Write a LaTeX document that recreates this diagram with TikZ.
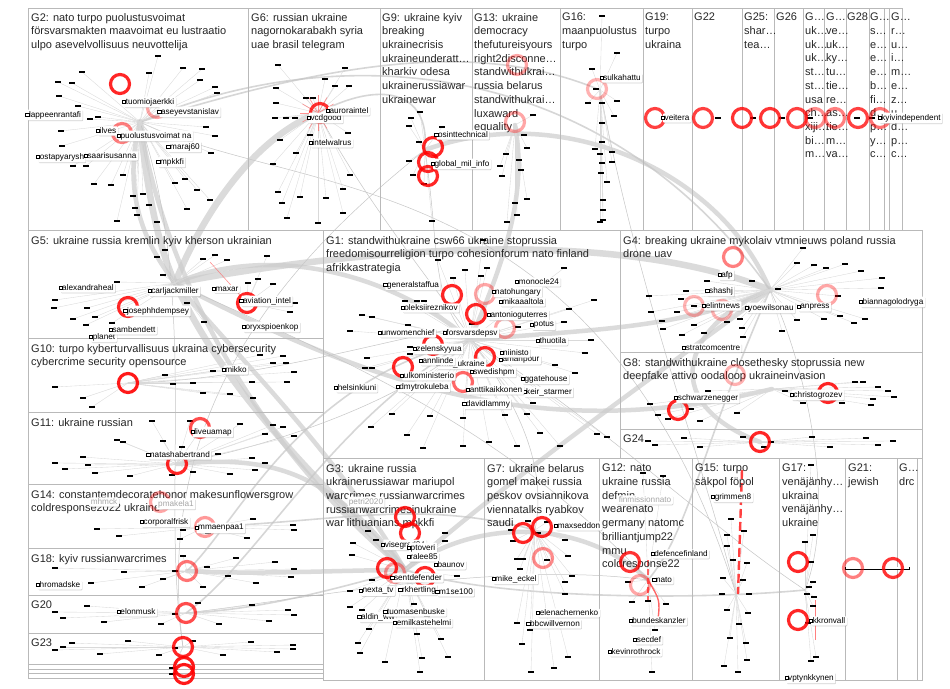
\documentclass[tikz,border=0pt]{standalone}
\usepackage{fontspec}
\setmainfont{Liberation Sans}
\usetikzlibrary{shadows}
\tikzset{
 box/.style={draw=gray!55, line width=.7pt},
 ttl/.style={anchor=north west, align=left, inner sep=0pt, font=\fontsize{11}{13.7}\selectfont, text=black!85},
 lab/.style={fill=white, rounded corners=1pt, inner sep=1.6pt, font=\fontsize{8.2}{9}\selectfont, drop shadow={opacity=.35, shadow xshift=.5pt, shadow yshift=-.8pt}},
 flab/.style={lab, text=gray!70},
 sq/.style={draw=black, fill=white, minimum size=3.2pt, inner sep=0pt, line width=.6pt},
 dsh/.style={fill=black, minimum width=6pt, minimum height=2.4pt, inner sep=0pt},
 ed/.style={draw=gray!30, line width=.35pt},
 ring/.style={circle, draw=red, line width=3.2pt, minimum size=19pt, inner sep=0pt},
 bund/.style={draw=gray!40, line width=4.5pt, opacity=.7, line cap=round},
 fat/.style={bund, line width=6.5pt},
 mid/.style={draw=gray!45, line width=1.6pt, opacity=.7},
 thn/.style={draw=gray!45, line width=.5pt},
 redge/.style={draw=red!60, line width=.6pt, opacity=.7}
}
\newcommand\gedges[3]{\foreach \x/\y [count=\i] in #3 {\coordinate (#1-\i) at (\x,\y); \draw[ed] (#2) -- (#1-\i);}}
\newcommand\gnodes[2]{\foreach \x/\y [count=\i] in #2 {\node[dsh] (#1-n\i) at (#1-\i) {};}}
\newcommand\lb[4]{\node[lab] (#1) at (#2,#3) {#4};\node[sq] (#1-s) at (#1.west) {};}
\newcommand\flb[4]{\node[flab] (#1) at (#2,#3) {#4};}
\def\Lgtwo{82/72,58/82,72/83,59/96,78/106,90/119,98/117,61/131,62/146,73/166,86/166,158/56,149/73,183/68,202/69,200/80,215/87,217/93,206/127,215/136,211/153,123/175,94/184,111/185,175/183,185/179,197/190,210/200,133/196,143/194,135/208,149/205,137/215,117/221,187/209,157/222}
\def\Lgsix{278/65,276/88,276/103,275/118,286/118,295/118,306/98,313/98,310/135,280/140,296/153,273/164,278/192,282/203,300/197,287/218,318/223,345/68,325/79,335/86,349/86,348/133,350/175,343/189,326/198,343/213}
\def\Lgnine{420/112,411/118,409/126,419/142,409/161,413/175,424/184,432/221,442/127}
\def\Lgthirteen{506/154,502/176,500/166,519/160,521/170,527/148,524/135,515/203,527/199,507/222,517/215,533/115}
\def\Lgsixteen{602/16,617/53,592/69,596/89,588/103,602/103,617/101,614/116,602/123,602/142,595/149,600/154,612/152,602/163,612/162,601/173,607/182,603/200,603/210,603/220,600/222}
\def\Lgfive{157/257,165/250,163/275,117/282,55/300,87/308,95/317,73/319,86/325,54/308,112/323,203/259,215/255,227/260,187/303,204/322}
\def\Lgfiveb{267/256,258/279,273/284,248/283,295/303,290/312}
\def\Lgten{55/387,83/398,92/407,165/375,173/384,213/371,193/383,203/393,230/394,260/355,252/382,273/363,286/363,294/372,287/382,283/356,253/398}
\def\Lgeleven{152/421,190/421,163/441,117/440,123/442,182/447,199/432,240/424,273/425,283/427,265/434,294/436,218/454,55/463,83/457,88/465,65/469,95/473,130/476,193/472,230/474,252/458,265/463,255/470,172/475}
\def\Lgfourteen{97/529,119/536,180/539,183/530,208/533,247/538,253/519,293/525,294/530}
\def\Lgeighteen{55/568,124/572,163/579,142/587,91/583,175/571,207/567,228/576,236/558,275/562,294/569,291/577,256/583,203/587,183/556}
\def\Lgtwenty{87/606,55/612,63/618,104/622,161/624,175/614,198/603,219/624,252/605,269/621,288/610,294/615}
\def\Lgtwentythree{55/650,63/647,72/643,100/654,128/641,159/655,175/648,193/641,223/655,251/642,277/652,293/645,293/649,172/668,172/674}
\def\Lgone{483/240,438/260,465/270,487/268,564/268,453/278,481/276,405/301,417/301,424/301,362/315,372/317,408/325,350/331,472/324,518/327,564/322,569/309,594/300,591/340,585/353,410/347,410/354,367/358,365/368,372/368,555/365,575/373,533/403,505/415,527/414,392/414,430/416,463/418,371/427,407/435,423/448,463/446,489/442,540/433,597/434,607/437,560/446,517/446}
\def\Lgfour{803/248,797/263,814/265,826/268,845/264,861/271,882/278,881/288,838/296,752/281,778/289,707/281,686/291,649/296,681/299,694/306,651/312,677/312,662/321,694/325,663/329,682/335,704/333,727/322,740/319,742/328,743/337,782/331,797/320,824/319,840/316,854/323,865/319}
\def\Lgeight{855/382,863/382,878/387,888/391,894/397,873/399,871/405,785/391,803/403,842/403,708/391,650/404,658/415,668/419,691/409,700/421,737/413}
\def\Lgtwentyfour{684/438,655/445,648/441,700/447,743/437,764/447,771/442,812/437,830/447,866/438,878/445,893/441}
\def\Lgthree{368/531,376/540,353/543,352/555,445/533,445/541,372/580,350/591,350/607,362/610,369/629,358/643,360/653,385/662,420/672,422/658,448/657,441/639,417/634,427/616,414/604,457/576}
\def\Lgseven{511/530,513/541,528/521,547/522,565/540,568/556,565/582,572/576,565/594,520/569,523/559,517/559,538/533,547/560,517/623,530/630,522/644,568/657,554/668,531/672}
\def\Lgtwelve{628/582,632/602,648/601,666/604,655/630,652/672,643/473,663/476}
\def\Lgfifteen{731/519,727/535,727/546,733/560,747/563,723/578,743/580,722/594,749/594,727/610,748/613,739/624,730/638,746/643,747/660,724/666,738/672,744/531}
\def\Lgseventeen{813/535,805/542,811/562,813/582,809/587,807/594,814/597,813/606,808/623,816/657,811/661,811/465}
\begin{document}
\begin{tikzpicture}[x=1pt,y=-1pt]
\useasboundingbox (0,0) rectangle (950,688);
\fill[white] (0,0) rectangle (950,688);
% ---------------- hubs
\coordinate (h2) at (140,122); \coordinate (h6) at (318,113); \coordinate (h9) at (425,150);
\coordinate (h13) at (515,125); \coordinate (h16) at (600,90); \coordinate (h5) at (175,283);
\coordinate (h5b) at (247,303); \coordinate (h10) at (128,383); \coordinate (h11) at (177,464);
\coordinate (h14) at (205,527); \coordinate (h18) at (187,571); \coordinate (h20) at (186,613);
\coordinate (h23) at (183,647); \coordinate (h1) at (470,340); \coordinate (h4) at (770,290);
\coordinate (h8) at (772,389); \coordinate (h24) at (760,442); \coordinate (h3) at (405,570);
\coordinate (h7) at (535,530); \coordinate (h12) at (648,580); \coordinate (h15) at (736,594);
\coordinate (h17) at (805,590);
% ---------------- thick bundles
\draw[fat] (h2) .. controls (148,200) and (160,250) .. (h5);
\draw[bund] (h2) .. controls (120,200) and (150,250) .. (h5);
\draw[bund] (h2) .. controls (165,280) and (260,450) .. (h3);
\draw[fat] (h6) .. controls (250,140) and (200,220) .. (h5);
\draw[bund] (h5) .. controls (280,240) and (400,280) .. (h1);
\draw[fat] (h5) .. controls (350,250) and (610,225) .. (h4);
\draw[bund] (h9) .. controls (560,100) and (720,170) .. (h4);
\draw[bund] (h1) .. controls (580,330) and (680,330) .. (h4);
\draw[bund] (h4) .. controls (650,380) and (520,470) .. (h3);
\draw[fat] (h5) .. controls (230,400) and (320,480) .. (h3);
\draw[bund] (h5) .. controls (260,380) and (340,460) .. (h3);
\draw[bund] (h11) .. controls (270,455) and (330,470) .. (h3);
\draw[bund] (h18) .. controls (260,575) and (340,570) .. (h3);
\draw[mid] (h20) .. controls (260,610) and (330,590) .. (h3);
\draw[bund] (h3) .. controls (470,520) and (580,515) .. (h12);
\draw[bund] (h13) .. controls (525,180) and (515,240) .. (h1);
\draw[bund] (h5) .. controls (400,400) and (560,440) .. (h8);
\draw[bund] (h4) .. controls (690,320) and (650,400) .. (h24);
\draw[mid] (h2) .. controls (330,40) and (600,50) .. (h4);
\draw[mid] (h2) .. controls (340,60) and (480,40) .. (h16);
\draw[mid] (h6) .. controls (380,80) and (430,90) .. (h9);
\draw[mid] (h1) .. controls (330,420) and (260,560) .. (h20);
\draw[mid] (h1) .. controls (300,380) and (240,520) .. (h18);
\draw[mid] (h4) .. controls (700,450) and (690,530) .. (h12);
\draw[mid] (h3) .. controls (500,600) and (700,600) .. (h17);
\draw[mid] (h14) .. controls (350,520) and (420,500) .. (h7);
\draw[thn] (h2) .. controls (300,200) and (600,160) .. (h15);
\draw[thn] (h9) .. controls (300,250) and (150,400) .. (h23);
\draw[thn] (h6) .. controls (420,300) and (560,400) .. (h7);
\draw[thn] (h16) .. controls (640,300) and (700,450) .. (h15);
\draw[thn] (h1) .. controls (600,420) and (700,520) .. (h17);
\draw[thn] (h5) .. controls (320,350) and (500,420) .. (h12);
\draw[thn] (h10) .. controls (300,380) and (500,300) .. (h1);
\draw[thn] (h11) .. controls (300,440) and (420,390) .. (h1);
\draw[thn] (h4) .. controls (800,350) and (840,500) .. (h17);
\draw[thn] (h20) .. controls (300,600) and (500,560) .. (h12);
\draw[thn] (h2) .. controls (200,300) and (160,500) .. (h23);
\draw[thn] (h9) .. controls (440,250) and (430,300) .. (h1);
% ---------------- star edges
\gedges{g2}{h2}{\Lgtwo}
\gedges{g6}{h6}{\Lgsix}
\gedges{g9}{h9}{\Lgnine}
\gedges{g13}{h13}{\Lgthirteen}
\gedges{g16}{h16}{\Lgsixteen}
\gedges{g5}{h5}{\Lgfive}
\gedges{g5b}{h5b}{\Lgfiveb}
\gedges{g10}{h10}{\Lgten}
\gedges{g11}{h11}{\Lgeleven}
\gedges{g14}{h14}{\Lgfourteen}
\gedges{g18}{h18}{\Lgeighteen}
\gedges{g20}{h20}{\Lgtwenty}
\gedges{g23}{h23}{\Lgtwentythree}
\gedges{g1}{h1}{\Lgone}
\gedges{g4}{h4}{\Lgfour}
\gedges{g8}{h8}{\Lgeight}
\gedges{g24}{h24}{\Lgtwentyfour}
\gedges{g3}{h3}{\Lgthree}
\gedges{g7}{h7}{\Lgseven}
\gedges{g12}{h12}{\Lgtwelve}
\gedges{g15}{h15}{\Lgfifteen}
\gedges{g17}{h17}{\Lgseventeen}
% ---------------- red details
\foreach \a in {0,30,...,330} \draw[redge] (h6) -- ++(\a:18pt);
\draw[redge] (h5b) -- (210,262);
\draw[red!75, line width=2.4pt, dash pattern=on 9pt off 4pt] (742,470) -- (738,594);
\draw[red!60, line width=1.4pt] (648,580) .. controls (660,600) .. (658,620);
\draw[red!60, line width=1.6pt, dash pattern=on 6pt off 3pt] (648,560) -- (648,600);
\draw[red!50, line width=.8pt] (815,600) -- (815,640);
% ---------------- boxes
\draw[box] (28,8) rectangle (902,230);
\foreach \xx in {248,380,472,560,643,692,742,774,803,824,846,869,884,889} \draw[box] (\xx,8) -- (\xx,230);
\draw[box] (28,230) rectangle (323,678);
\foreach \yy in {338,412,484,548,595,633,664,669,673} \draw[box] (28,\yy) -- (323,\yy);
\draw[box] (323,230) rectangle (620,458);
\draw[box] (620,230) rectangle (922,458);
\foreach \yy in {352,429} \draw[box] (620,\yy) -- (922,\yy);
\draw[box] (323,458) rectangle (922,680);
\foreach \xx in {484,599,692,779,845,897,917} \draw[box] (\xx,458) -- (\xx,680);
% ---------------- titles
\node[ttl] (t2) at (31,13) {G2: nato turpo puolustusvoimat\\försvarsmakten maavoimat eu lustraatio\\ulpo asevelvollisuus neuvottelija};
\node[ttl] (t6) at (251,13) {G6: russian ukraine\\nagornokarabakh syria\\uae brasil telegram};
\node[ttl] (t9) at (382,13) {G9: ukraine kyiv\\breaking\\ukrainecrisis\\ukraineunderatt…\\kharkiv odesa\\ukrainerussiawar\\ukrainewar};
\node[ttl] (t13) at (474,13) {G13: ukraine\\democracy\\thefutureisyours\\right2disconne…\\standwithukrai…\\russia belarus\\standwithukrai…\\luxaward\\equality};
\node[ttl] (t16) at (562,13) {G16:\\maanpuolustus\\turpo};
\node[ttl] (t19) at (645,13) {G19:\\turpo\\ukraina};
\node[ttl] (t22) at (694,13) {G22};
\node[ttl] (t25) at (744,13) {G25:\\shar…\\tea…};
\node[ttl] (t26) at (776,13) {G26};
\node[ttl] (t27) at (805,13) {G…\\uk…\\uk…\\uk…\\st…\\st…\\usa\\ch…\\xiji…\\bi…\\m…};
\node[ttl] (t27b) at (826,13) {G…\\ve…\\uk…\\ky…\\tu…\\tie…\\re…\\as…\\tie…\\m…\\va…};
\node[ttl] (t28) at (847,13) {G28};
\node[ttl] (t29) at (870,13) {G…\\s…\\e…\\e…\\e…\\b…\\fi…\\d…\\p…\\y…\\c…};
\node[ttl] (t30) at (891,13) {G…\\r…\\u…\\i…\\m…\\e…\\z…\\u…\\d…\\p…\\c…};
\node[ttl] (t5) at (31,236) {G5: ukraine russia kremlin kyiv kherson ukrainian};
\node[ttl] (t10) at (31,344) {G10: turpo kyberturvallisuus ukraina cybersecurity\\cybercrime security opensource};
\node[ttl] (t11) at (31,418) {G11: ukraine russian};
\node[ttl] (t14) at (31,490) {G14: constantemdecoratehonor makesunflowersgrow\\coldresponse2022 ukraine};
\node[ttl] (t18) at (31,554) {G18: kyiv russianwarcrimes};
\node[ttl] (t20) at (31,601) {G20};
\node[ttl] (t23) at (31,639) {G23};
\node[ttl] (t1) at (326,236) {G1: standwithukraine csw66 ukraine stoprussia\\freedomisourreligion turpo cohesionforum nato finland\\afrikkastrategia};
\node[ttl] (t4) at (623,236) {G4: breaking ukraine mykolaiv vtmnieuws poland russia\\drone uav};
\node[ttl] (t8) at (623,358) {G8: standwithukraine closethesky stoprussia new\\deepfake attivo oodaloop ukraineinvasion};
\node[ttl] (t24) at (623,435) {G24};
\node[ttl] (t3) at (326,464) {G3: ukraine russia\\ukrainerussiawar mariupol\\warcrimes russianwarcrimes\\russianwarcrimesinukraine\\war lithuanians mpkkfi};
\node[ttl] (t7) at (487,464) {G7: ukraine belarus\\gomel makei russia\\peskov ovsiannikova\\viennatalks ryabkov\\saudi};
\node[ttl] (t12) at (602,464) {G12: nato\\ukraine russia\\defmin\\wearenato\\germany natomc\\brilliantjump22\\mmu\\coldresponse22};
\node[ttl] (t15) at (695,464) {G15: turpo\\säkpol föpol};
\node[ttl] (t17) at (782,464) {G17:\\venäjänhy…\\ukraina\\venäjänhy…\\ukraine};
\node[ttl] (t21) at (848,464) {G21:\\jewish};
\node[ttl] (t31) at (899,464) {G…\\drc};
% ---------------- dash nodes
\gnodes{g2}{\Lgtwo}
\gnodes{g6}{\Lgsix}
\gnodes{g9}{\Lgnine}
\gnodes{g13}{\Lgthirteen}
\gnodes{g16}{\Lgsixteen}
\gnodes{g5}{\Lgfive}
\gnodes{g5b}{\Lgfiveb}
\gnodes{g10}{\Lgten}
\gnodes{g11}{\Lgeleven}
\gnodes{g14}{\Lgfourteen}
\gnodes{g18}{\Lgeighteen}
\gnodes{g20}{\Lgtwenty}
\gnodes{g23}{\Lgtwentythree}
\gnodes{g1}{\Lgone}
\gnodes{g4}{\Lgfour}
\gnodes{g8}{\Lgeight}
\gnodes{g24}{\Lgtwentyfour}
\gnodes{g3}{\Lgthree}
\gnodes{g7}{\Lgseven}
\gnodes{g12}{\Lgtwelve}
\gnodes{g15}{\Lgfifteen}
\gnodes{g17}{\Lgseventeen}
\foreach \xx [count=\i] in {718,753,782,810,857,872} \node[dsh] (row-\i) at (\xx,118) {};
\draw[black, line width=3pt] (845,568) -- (910,568);
\draw[white, line width=1.4pt] (846,568) -- (909,568);
% ---------------- rings
\foreach \x/\y/\o [count=\i] in {120/84/.85,122/133/.5,157/108/.35,320/113/.8,433/147/.85,428/162/.85,428/176/.85,517/65/.35,515/122/.35,597/89/.3,
655/118/.75,703/118/.75,742/118/.8,770/118/.8,797/118/.75,815/118/.45,835/118/.5,858/118/.75,880/118/.55,
128/307/.85,247/303/.85,128/383/.9,200/428/.7,177/464/.85,160/502/.35,205/527/.4,187/571/.55,186/613/.7,183/647/.85,184/667/.9,184/674/.9,
452/295/.85,485/294/.35,476/314/.85,505/328/.35,433/345/.85,485/357/.85,403/367/.85,463/382/.6,
733/257/.5,694/306/.3,722/310/.3,827/295/.35,678/410/.85,828/393/.85,735/375/.3,760/442/.85,
405/517/.85,410/533/.85,387/568/.85,395/573/.4,425/577/.85,523/533/.85,542/527/.85,543/558/.45,630/562/.8,640/585/.35,
798/562/.85,798/620/.85,853/568/.5,893/568/.8}
  \node[ring, draw opacity=\o] (ring\i) at (\x,\y) {};
% ---------------- labels
\lb{lappe}{55}{115}{lappeenrantafi}
\lb{tuomi}{150}{102}{tuomiojaerkki}
\lb{aseye}{190}{112}{aseyevstanislav}
\lb{ilves}{108}{131}{ilves}
\lb{puolu}{156}{136}{puolustusvoimat na}
\lb{maraj}{185}{147}{maraj60}
\lb{ostap}{62}{157}{ostapyarysh}
\lb{saari}{112}{156}{saarisusanna}
\lb{mpkk}{172}{162}{mpkkfi}
\lb{vcdgo}{326}{118}{vcdgood}
\lb{auror}{349}{111}{auroraintel}
\lb{intel}{332}{143}{intelwalrus}
\lb{osint}{463}{135}{osinttechnical}
\lb{globa}{462}{164}{global\_mil\_info}
\lb{sulka}{622}{78}{sulkahattu}
\lb{veite}{677}{118}{veitera}
\lb{kyivi}{911}{118}{kyivindependent}
\lb{alexa}{88}{288}{alexandraheal}
\lb{carlj}{175}{291}{carljackmiller}
\lb{josep}{158}{311}{josephhdempsey}
\lb{planet}{104}{337}{planet}
\lb{samben}{134}{330}{sambendett}
\lb{maxar}{227}{289}{maxar}
\lb{aviat}{267}{301}{aviation\_intel}
\lb{oryxs}{272}{327}{oryxspioenkop}
\lb{mikko}{236}{370}{mikko}
\lb{liveu}{213}{432}{liveuamap}
\lb{natas}{180}{455}{natashabertrand}
\flb{mhmck}{104}{502}{mhmck}
\flb{pmake}{176}{504}{pmakela1}
\lb{corpo}{166}{522}{corporalfrisk}
\lb{mmaen}{221}{528}{mmaenpaa1}
\lb{hroma}{60}{585}{hromadske}
\lb{elonm}{138}{612}{elonmusk}
\lb{gener}{413}{285}{generalstaffua}
\lb{monoc}{539}{282}{monocle24}
\lb{natoh}{518}{292}{natohungary}
\lb{mikaa}{523}{302}{mikaaaltola}
\lb{oleks}{431}{308}{oleksiireznikov}
\lb{anton}{519}{315}{antonioguterres}
\lb{potus}{544}{325}{potus}
\lb{unwom}{408}{333}{unwomenchief}
\lb{forsv}{472}{333}{forsvarsdepsv}
\lb{thuot}{553}{341}{thuotila}
\lb{zelen}{439}{349}{zelenskyyua}
\lb{amanp}{521}{360}{amanpour}
\lb{niini}{516}{353}{niinisto}
\lb{mfaukr}{462}{364}{mfa\_ukraine}
\lb{annli}{438}{361}{annlinde}
\lb{swedi}{494}{372}{swedishpm}
\lb{ulkom}{429}{376}{ulkoministerio}
\lb{ggate}{546}{379}{ggatehouse}
\lb{helsi}{357}{388}{helsinkiuni}
\lb{dmytr}{424}{387}{dmytrokuleba}
\lb{keirs}{549}{392}{keir\_starmer}
\lb{antti}{496}{390}{anttikaikkonen}
\lb{david}{488}{404}{davidlammy}
\lb{anpre}{815}{307}{anpress}
\lb{afp}{727}{275}{afp}
\lb{shash}{721}{291}{shashj}
\lb{elint}{723}{306}{elintnews}
\lb{yoewi}{771}{308}{yoewilsonau}
\lb{bianna}{893}{302}{biannagolodryga}
\lb{strat}{713}{348}{stratcomcentre}
\lb{schwa}{708}{398}{schwarzenegger}
\lb{chris}{818}{395}{christogrozev}
\flb{petri}{366}{502}{petri2020}
\lb{visegr}{405}{545}{visegrad24}
\lb{ptove}{423}{548}{ptoveri}
\lb{ralee}{424}{557}{ralee85}
\lb{bauno}{451}{565}{baunov}
\lb{sentd}{418}{578}{sentdefender}
\lb{nexta}{378}{591}{nexta\_tv}
\lb{rkher}{419}{590}{rkhertling}
\lb{m1se}{456}{592}{m1se100}
\lb{aldin}{378}{617}{aldin\_ww}
\lb{tuoma}{416}{612}{tuomasenbuske}
\lb{emilk}{424}{623}{emilkastehelmi}
\lb{maxse}{579}{526}{maxseddon}
\lb{mikee}{516}{579}{mike\_eckel}
\lb{elena}{569}{613}{elenachernenko}
\lb{bbcwi}{555}{624}{bbcwillvernon}
\flb{finmi}{645}{500}{finmissionnato}
\lb{defen}{681}{554}{defencefinland}
\lb{nato}{664}{580}{nato}
\lb{bunde}{659}{621}{bundeskanzler}
\lb{secde}{649}{640}{secdef}
\lb{kevin}{636}{652}{kevinrothrock}
\lb{grimm}{733}{497}{grimmen8}
\lb{kkron}{829}{621}{kkronvall}
\lb{vptyn}{811}{678}{vptynkkynen}
\end{tikzpicture}
\end{document}
